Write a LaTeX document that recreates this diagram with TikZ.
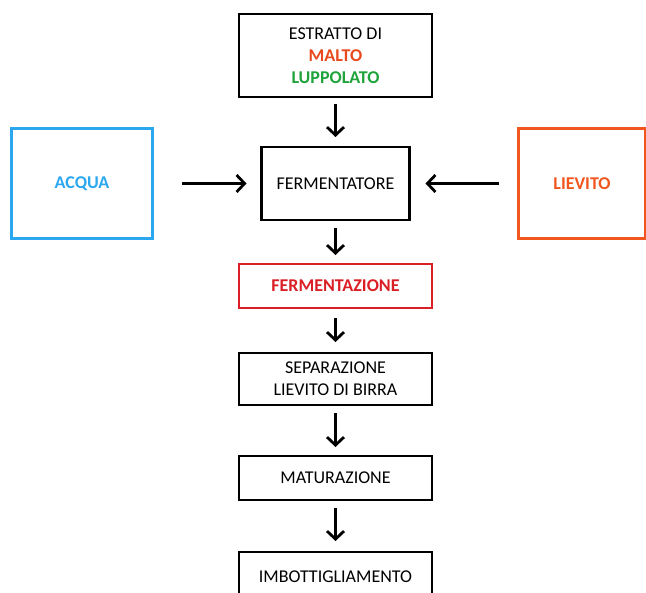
\documentclass[tikz,border=0pt]{standalone}
\usepackage{fontspec}
\setmainfont{Carlito}
\usepackage{xcolor}
\usepackage{tikz}
\usetikzlibrary{arrows.meta, positioning}

\definecolor{rossomalto}{HTML}{E8491D}
\definecolor{verdeluppolo}{HTML}{1FA33A}
\definecolor{bluacqua}{HTML}{2AA7EE}
\definecolor{arancio}{HTML}{F0561E}
\definecolor{rossoferm}{HTML}{DA1F26}

\begin{document}
\begin{tikzpicture}[x=1pt, y=-1pt,
        % 1. STILI
        base/.style={
            draw, align=center, line width=2.6pt, inner sep=0pt, outer sep=0pt,
            font=\fontsize{18}{22}\selectfont
        },
        % blocchi del processo (colonna centrale)
        fase/.style={base, minimum width=193pt, minimum height=44pt},
        % ingredienti laterali
        ingr/.style={base, minimum height=110pt, font=\fontsize{18}{22}\selectfont\bfseries},
        % frecce
        freccia/.style={line width=2.8pt, -{Straight Barb[length=8pt, width=17pt]},
            shorten <=8pt, shorten >=9pt}
    ]
        \clip (0,0) rectangle (646,593);
        \useasboundingbox (0,0) rectangle (646,593);

        % 2. BLOCCHI
        \node[fase, minimum height=83pt] (estratto) at (335.5,55.5)
            {ESTRATTO DI \\ {\bfseries\color{rossomalto}MALTO} \\ {\bfseries\color{verdeluppolo}LUPPOLATO}};

        \node[base, minimum width=148pt, minimum height=73pt, below=50pt of estratto] (fermentatore) {FERMENTATORE};

        \node[ingr, draw=bluacqua, text=bluacqua, minimum width=141pt, left=109pt of fermentatore] (acqua) {ACQUA};

        \node[ingr, draw=arancio, text=arancio, minimum width=127pt, right=109pt of fermentatore] (lievito) {LIEVITO};

        \node[fase, draw=rossoferm, text=rossoferm, font=\fontsize{18}{22}\selectfont\bfseries,
            below=44pt of fermentatore] (fermentazione) {FERMENTAZIONE};

        \node[fase, minimum height=52pt, below=45pt of fermentazione] (separazione) {SEPARAZIONE \\ LIEVITO DI BIRRA};

        \node[fase, below=51pt of separazione] (maturazione) {MATURAZIONE};

        \node[fase, minimum height=50pt, below=52pt of maturazione] (imbottigliamento) {IMBOTTIGLIAMENTO};

        % 3. FRECCE
        \draw[freccia, shorten <=7pt, shorten >=10pt] (estratto) -- (fermentatore);
        \draw[freccia, shorten <=29pt, shorten >=15pt] (acqua) -- (fermentatore);
        \draw[freccia, shorten <=20pt, shorten >=16pt] (lievito) -- (fermentatore);
        \draw[freccia] (fermentatore) -- (fermentazione);
        \draw[freccia, shorten <=10pt, shorten >=11pt] (fermentazione) -- (separazione);
        \draw[freccia] (separazione) -- (maturazione);
        \draw[freccia, shorten >=11pt] (maturazione) -- (imbottigliamento);

    \end{tikzpicture}
\end{document}
